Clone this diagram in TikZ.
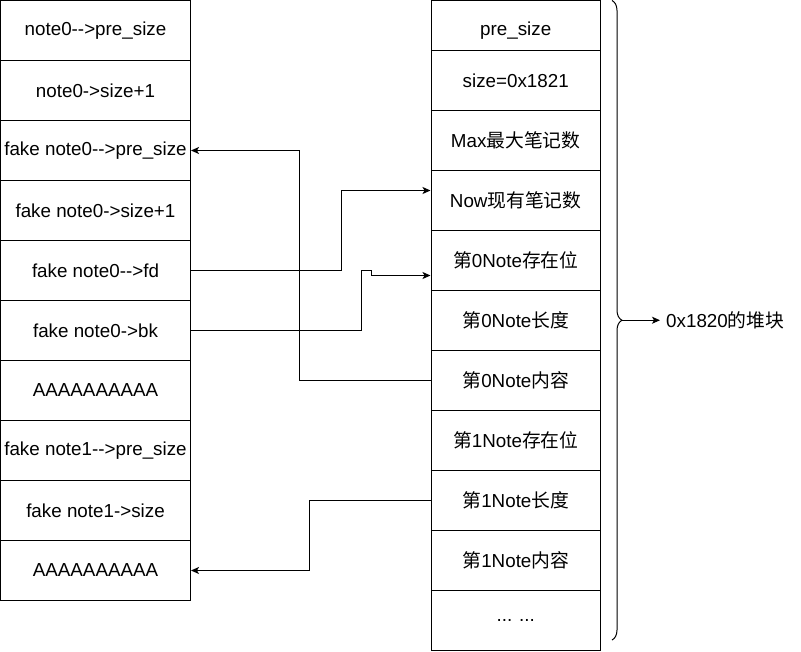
\documentclass[tikz,border=0pt]{standalone}
\usepackage{fontspec}
\setmainfont{Liberation Sans}
\newfontfamily\cjk{Noto Sans CJK SC}
\usetikzlibrary{arrows.meta,decorations.pathreplacing}
\begin{document}
\begin{tikzpicture}[x=1pt,y=-1pt,
  every node/.style={font=\fontsize{18.8}{22}\selectfont},
  cell/.style={draw=black,line width=1pt,inner sep=0pt,minimum width=190pt,minimum height=60pt},
  rcell/.style={draw=black,fill=white,line width=1pt,inner sep=0pt,minimum width=169.5pt,minimum height=60pt},
  arr/.style={line width=1pt,-{Stealth[length=8pt,width=7pt,inset=2pt]}},
  conn/.style={line width=1pt}]
\useasboundingbox (0,0) rectangle (801,651);
% left column
\node[cell] (L0) at (95.5,30.5) {note0-{}->pre\_size};
\node[cell] (L1) at (95.5,90.5) {note0->size+1};
\node[cell] (L2) at (95.5,150.5) {fake note0-{}->pre\_size};
\node[cell] (L3) at (95.5,210.5) {fake note0->size+1};
\node[cell] (L4) at (95.5,270.5) {fake note0-{}->fd};
\node[cell] (L5) at (95.5,330.5) {fake note0->bk};
\node[cell] (L6) at (95.5,390.5) {AAAAAAAAAA};
\node[cell] (L7) at (95.5,450.5) {fake note1-{}->pre\_size};
\node[cell] (L8) at (95.5,510.5) {fake note1->size};
\node[cell] (L9) at (95.5,570.5) {AAAAAAAAAA};
% right column
\node[rcell] (R0) at (515.75,30.5) {pre\_size};
\node[rcell] (R1) at (515.75,80.5) {size=0x1821};
\node[rcell] (R2) at (515.75,140.5) {Max{\cjk 最大笔记数}};
\node[rcell] (R3) at (515.75,200.5) {Now{\cjk 现有笔记数}};
\node[rcell] (R4) at (515.75,260.5) {{\cjk 第}0Note{\cjk 存在位}};
\node[rcell] (R5) at (515.75,320.5) {{\cjk 第}0Note{\cjk 长度}};
\node[rcell] (R6) at (515.75,380.5) {{\cjk 第}0Note{\cjk 内容}};
\node[rcell] (R7) at (515.75,440.5) {{\cjk 第}1Note{\cjk 存在位}};
\node[rcell] (R8) at (515.75,500.5) {{\cjk 第}1Note{\cjk 长度}};
\node[rcell] (R9) at (515.75,560.5) {{\cjk 第}1Note{\cjk 内容}};
\node[rcell] (R10) at (515.75,620) {... ...};
% connectors
\draw[arr] (R6.west) -- ++(-131,0) |- (L2.east);
\draw[arr] (L4.east) -- ++(150,0) |- ([yshift=10pt]R3.west);
\draw[arr] (L5.east) -- ++(170,0) -- ++(0,-60) -- ++(10,0) -- ++(0,5) -- ([yshift=-15pt]R4.west);
\draw[arr] (R8.west) -- ++(-121,0) |- (L9.east);
% brace
\coordinate (btop) at (612,0.5);
\coordinate (bbot) at (612,640);
\draw[line width=1pt,decorate,decoration={brace,amplitude=10pt}] (btop) -- (bbot);
\coordinate (bt) at (622,320.25);
\node[anchor=west,inner sep=6pt] (lbl) at (660,320.25) {0x1820{\cjk 的堆块}};
\draw[arr] (bt) -- (lbl.west);
\end{tikzpicture}
\end{document}
